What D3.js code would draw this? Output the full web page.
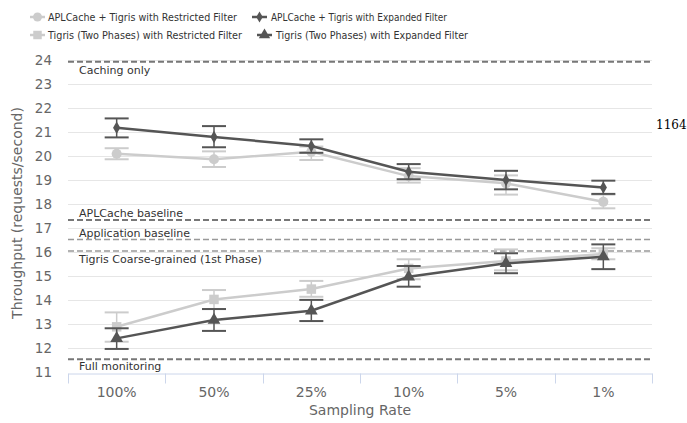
<!DOCTYPE html>
<html><head><meta charset="utf-8">
<script src="https://cdn.jsdelivr.net/npm/d3@7/dist/d3.min.js"></script>
<style>body{margin:0;background:#fff;} svg{display:block;}</style>
</head><body>
<svg id="chart" width="687" height="423"></svg>
<script>
// ---- data ----
const categories = ["100%", "50%", "25%", "10%", "5%", "1%"];
const seriesNames = [
  "APLCache + Tigris with Restricted Filter",
  "APLCache + Tigris with Expanded Filter",
  "Tigris (Two Phases) with Restricted Filter",
  "Tigris (Two Phases) with Expanded Filter"
];
const aplRestricted = [20.1, 19.87, 20.18, 19.17, 18.87, 18.1];
const aplRestrictedLow = [19.87, 19.55, 19.84, 18.9, 18.4, 17.83];
const aplRestrictedHigh = [20.33, 20.2, 20.4, 19.5, 19.2, 18.4];
const aplExpanded = [21.18, 20.8, 20.42, 19.35, 19.01, 18.7];
const aplExpandedLow = [20.78, 20.37, 20.14, 19.04, 18.62, 18.43];
const aplExpandedHigh = [21.57, 21.25, 20.7, 19.67, 19.39, 18.98];
const tigRestricted = [12.9, 14.04, 14.47, 15.33, 15.64, 15.93];
const tigRestrictedLow = [12.28, 13.64, 14.15, 14.88, 15.25, 15.71];
const tigRestrictedHigh = [13.5, 14.43, 14.81, 15.71, 16.12, 16.17];
const tigExpanded = [12.42, 13.18, 13.57, 14.98, 15.54, 15.82];
const tigExpandedLow = [11.98, 12.73, 13.14, 14.57, 15.13, 15.3];
const tigExpandedHigh = [12.84, 13.64, 14.02, 15.43, 15.96, 16.33];
const yTicks = [11, 12, 13, 14, 15, 16, 17, 18, 19, 20, 21, 22, 23, 24];
const refLabels = ["Caching only", "APLCache baseline", "Application baseline", "Tigris Coarse-grained (1st Phase)", "Full monitoring"];
const refValues = [23.93, 17.34, 16.53, 16.05, 11.55];
const sideNote = "1164";

// ---- styles ----
const FONT = "DejaVu Sans, Verdana, sans-serif";
const colors = ["#cccccc", "#555555", "#cccccc", "#555555"];
const symbols = [d3.symbolCircle, d3.symbolDiamond, d3.symbolSquare, d3.symbolTriangle];
const symSize = [80, 45, 90, 70];
const refStyle = [
  {c: "#777", w: 2, dy: 12},
  {c: "#777", w: 2, dy: -3.5},
  {c: "#999", w: 1.5, dy: -3},
  {c: "#999", w: 1.5, dy: 12},
  {c: "#777", w: 2, dy: 11}
];
const legendLayout = [
  {x: 30, y: 17, tx: 18, w: 189},
  {x: 252, y: 17, tx: 19, w: 176},
  {x: 30, y: 35, tx: 18, w: 194},
  {x: 257, y: 35, tx: 19, w: 192}
];

const svg = d3.select("#chart");
const x = d3.scaleBand().domain(categories).range([68, 652]);
const y = d3.scaleLinear().domain([11, 24]).range([372.5, 60]);
const cx = c => x(c) + x.bandwidth() / 2;

// grid
svg.append("g").selectAll("line").data(yTicks.filter(t => t > 11)).join("line")
  .attr("x1", 68).attr("x2", 652)
  .attr("y1", d => Math.round(y(d)) + 0.5).attr("y2", d => Math.round(y(d)) + 0.5)
  .attr("stroke", "#e6e6e6").attr("stroke-width", 1);

// y labels
svg.append("g").selectAll("text").data(yTicks).join("text")
  .attr("x", 52).attr("y", d => y(d)).attr("dy", "0.35em")
  .attr("text-anchor", "end").attr("font-family", FONT).attr("font-size", 13.5)
  .attr("fill", "#666").text(d => d);

// x axis
const xAxis = d3.axisBottom(x).tickSize(0).tickPadding(10);
const gx = svg.append("g").attr("transform", `translate(0,${Math.round(y(11)) + 0.5})`).call(xAxis);
gx.select(".domain").attr("stroke", "#ccd6eb");
gx.selectAll(".tick text").attr("font-family", FONT).attr("font-size", 14).attr("fill", "#666").attr("dy", "0.95em");
const bounds = categories.map(c => x(c)).concat([x(categories[categories.length - 1]) + x.bandwidth()]);
gx.append("g").selectAll("line").data(bounds).join("line")
  .attr("x1", d => Math.round(d) + 0.5).attr("x2", d => Math.round(d) + 0.5)
  .attr("y1", 0).attr("y2", 10).attr("stroke", "#ccd6eb");

// axis titles
svg.append("text").attr("x", 360).attr("y", 415).attr("text-anchor", "middle")
  .attr("font-family", FONT).attr("font-size", 14).attr("fill", "#666").text("Sampling Rate");
svg.append("text").attr("transform", "translate(22,213) rotate(-90)").attr("text-anchor", "middle")
  .attr("font-family", FONT).attr("font-size", 14).attr("fill", "#666").text("Throughput (requests/second)");

// reference lines
const refG = svg.append("g");
refValues.forEach((v, i) => {
  const yy = y(v);
  refG.append("line").attr("x1", 68).attr("x2", 652).attr("y1", yy).attr("y2", yy)
    .attr("stroke", refStyle[i].c).attr("stroke-width", refStyle[i].w).attr("stroke-dasharray", "6,3");
  refG.append("text").attr("x", 79).attr("y", yy + refStyle[i].dy)
    .attr("font-family", FONT).attr("font-size", 11).attr("fill", "#333").text(refLabels[i]);
});

// series
const series = [
  {v: aplRestricted, lo: aplRestrictedLow, hi: aplRestrictedHigh},
  {v: aplExpanded, lo: aplExpandedLow, hi: aplExpandedHigh},
  {v: tigRestricted, lo: tigRestrictedLow, hi: tigRestrictedHigh},
  {v: tigExpanded, lo: tigExpandedLow, hi: tigExpandedHigh}
];
const order = [0, 2, 1, 3];
const line = d3.line().x((d, i) => cx(categories[i])).y(d => y(d));
order.forEach(si => {
  const s = series[si];
  const g = svg.append("g");
  g.append("path").datum(s.v).attr("d", line).attr("fill", "none")
    .attr("stroke", colors[si]).attr("stroke-width", 2.5);
  categories.forEach((c, i) => {
    const xx = cx(c);
    g.append("line").attr("x1", xx).attr("x2", xx).attr("y1", y(s.lo[i])).attr("y2", y(s.hi[i]))
      .attr("stroke", colors[si]).attr("stroke-width", 1.5);
    [s.lo[i], s.hi[i]].forEach(e => {
      g.append("line").attr("x1", xx - 12).attr("x2", xx + 12).attr("y1", y(e)).attr("y2", y(e))
        .attr("stroke", colors[si]).attr("stroke-width", 2);
    });
  });
  g.selectAll("path.m").data(s.v).join("path").attr("class", "m")
    .attr("transform", (d, i) => `translate(${cx(categories[i])},${y(d)})`)
    .attr("d", d3.symbol().type(symbols[si]).size(symSize[si])).attr("fill", colors[si]);
});

// legend
seriesNames.forEach((n, i) => {
  const L = legendLayout[i];
  const g = svg.append("g").attr("transform", `translate(${L.x},${L.y})`);
  g.append("line").attr("x1", 0).attr("x2", 15).attr("y1", 0).attr("y2", 0)
    .attr("stroke", colors[i]).attr("stroke-width", 2.5);
  g.append("path").attr("transform", "translate(7.5,0)")
    .attr("d", d3.symbol().type(symbols[i]).size(symSize[i] * 0.8)).attr("fill", colors[i]);
  g.append("text").attr("x", L.tx).attr("y", 0).attr("dy", "0.35em")
    .attr("font-family", FONT).attr("font-size", 10).attr("fill", "#333")
    .attr("textLength", L.w).attr("lengthAdjust", "spacingAndGlyphs").text(n);
});

svg.append("text").attr("x", 656).attr("y", 129).attr("font-family", "DejaVu Serif, serif")
  .attr("font-size", 12).attr("fill", "#000").text(sideNote);
</script>
</body></html>
